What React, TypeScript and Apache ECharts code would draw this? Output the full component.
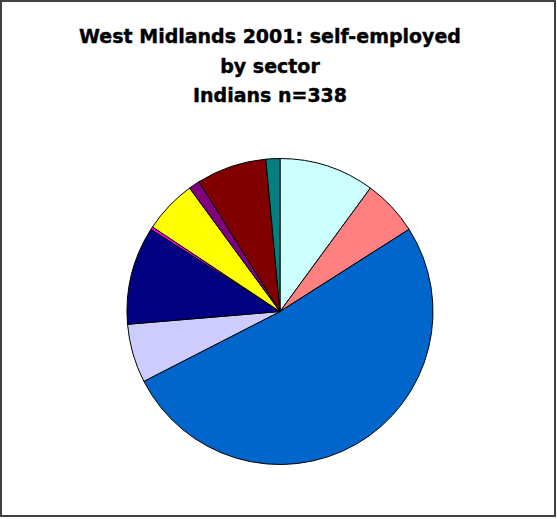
import React, { useEffect, useRef } from "react";
import * as echarts from "echarts";

const titleLines = ["West Midlands 2001: self-employed", "by sector", "Indians n=338"];

const sectors = [
  "Sector A",
  "Sector B",
  "Sector C",
  "Sector D",
  "Sector E",
  "Sector F",
  "Sector G",
  "Sector H",
  "Sector I",
  "Sector J",
];
const counts = [34, 20, 174, 21, 35, 1, 19, 4, 25, 5];
const colors = [
  "#CCFFFF",
  "#FF8080",
  "#0066CC",
  "#CCCCFF",
  "#000080",
  "#FF00FF",
  "#FFFF00",
  "#800080",
  "#800000",
  "#008080",
];

export default function App() {
  const ref = useRef<HTMLDivElement>(null);
  useEffect(() => {
    if (!ref.current) return;
    const chart = echarts.init(ref.current, null, { renderer: "svg" });
    chart.setOption({
      animation: false,
      backgroundColor: "#ffffff",
      title: {
        text: titleLines.join("\n"),
        left: 265,
        top: 16.5,
        textAlign: "center",
        textStyle: {
          fontFamily: "DejaVu Sans",
          fontWeight: "bold",
          fontSize: 19,
          lineHeight: 29.5,
          color: "#000000",
          textBorderColor: "#000000",
          textBorderWidth: 0.4,
        },
      },
      graphic: [
        {
          type: "rect",
          shape: { x: 1, y: 1, width: 554, height: 515 },
          style: { fill: "none", stroke: "#404040", lineWidth: 2 },
          silent: true,
        },
      ],
      series: [
        {
          type: "pie",
          center: [280, 311.5],
          radius: [0, 153],
          startAngle: 90,
          clockwise: true,
          avoidLabelOverlap: false,
          silent: true,
          label: { show: false },
          labelLine: { show: false },
          itemStyle: { borderColor: "#000000", borderWidth: 1 },
          data: sectors.map((name, i) => ({
            name,
            value: counts[i],
            itemStyle: { color: colors[i] },
          })),
        },
      ],
    });
    return () => chart.dispose();
  }, []);
  return (
    <div
      ref={ref}
      style={{ position: "fixed", left: 0, top: 0, width: 557, height: 519 }}
    />
  );
}
